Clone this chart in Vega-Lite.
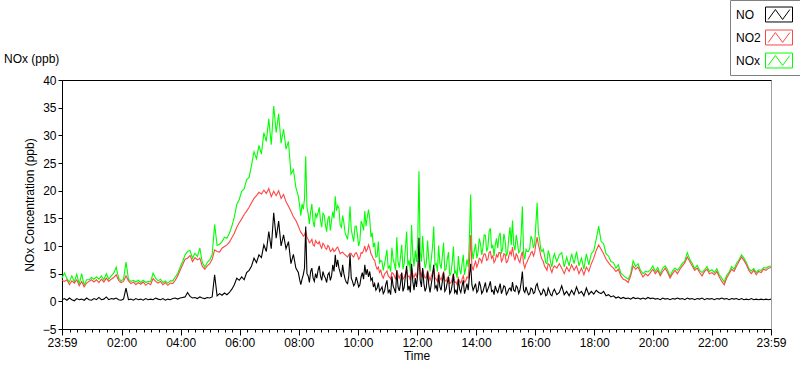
{
  "$schema": "https://vega.github.io/schema/vega-lite/v6.json",
  "autosize": "none",
  "width": 709,
  "height": 249,
  "padding": {"left": 62, "top": 80, "right": 29, "bottom": 40},
  "background": "white",
  "title": {"text": "NOx (ppb)", "anchor": "start", "frame": "group", "dx": -58, "dy": 80, "offset": 14, "fontSize": 12, "fontWeight": "normal", "font": "Liberation Sans", "color": "#000"},
  "data": {"values": [
    {"m":0,"NO":0.3,"NO2":3.8,"NOx":4.2},{"m":5,"NO":0.5,"NO2":3.6,"NOx":5.1},{"m":10,"NO":0.2,"NO2":3.9,"NOx":4.1},{"m":15,"NO":0.6,"NO2":3.0,"NOx":3.5},
    {"m":20,"NO":0.3,"NO2":3.7,"NOx":4.6},{"m":25,"NO":0.1,"NO2":3.3,"NOx":3.5},{"m":30,"NO":0.5,"NO2":3.9,"NOx":4.9},{"m":35,"NO":0.3,"NO2":2.8,"NOx":3.1},
    {"m":40,"NO":0.4,"NO2":3.6,"NOx":5.0},{"m":45,"NO":0.2,"NO2":2.6,"NOx":2.9},{"m":50,"NO":0.6,"NO2":3.3,"NOx":3.9},{"m":55,"NO":0.3,"NO2":3.6,"NOx":3.9},
    {"m":60,"NO":0.2,"NO2":3.9,"NOx":4.3},{"m":65,"NO":0.5,"NO2":3.5,"NOx":4.0},{"m":70,"NO":0.3,"NO2":3.9,"NOx":4.4},{"m":75,"NO":0.7,"NO2":3.4,"NOx":4.0},
    {"m":80,"NO":0.3,"NO2":4.0,"NOx":4.6},{"m":85,"NO":0.4,"NO2":3.5,"NOx":3.9},{"m":90,"NO":0.8,"NO2":4.2,"NOx":5.0},{"m":95,"NO":0.3,"NO2":3.6,"NOx":4.0},
    {"m":100,"NO":0.5,"NO2":4.0,"NOx":4.6},{"m":105,"NO":0.4,"NO2":4.3,"NOx":5.1},{"m":110,"NO":0.6,"NO2":4.8,"NOx":6.2},{"m":115,"NO":0.3,"NO2":3.8,"NOx":4.2},
    {"m":120,"NO":0.2,"NO2":3.4,"NOx":3.7},{"m":125,"NO":0.4,"NO2":3.6,"NOx":4.0},{"m":130,"NO":2.4,"NO2":4.6,"NOx":7.1},{"m":135,"NO":0.3,"NO2":3.7,"NOx":4.0},
    {"m":140,"NO":0.4,"NO2":3.2,"NOx":3.6},{"m":145,"NO":0.2,"NO2":3.5,"NOx":3.8},{"m":150,"NO":0.5,"NO2":3.0,"NOx":3.5},{"m":155,"NO":0.3,"NO2":3.4,"NOx":3.8},
    {"m":160,"NO":0.4,"NO2":3.1,"NOx":3.4},{"m":165,"NO":0.2,"NO2":3.5,"NOx":3.8},{"m":170,"NO":0.5,"NO2":2.9,"NOx":3.4},{"m":175,"NO":0.3,"NO2":3.3,"NOx":3.6},
    {"m":180,"NO":0.4,"NO2":3.0,"NOx":3.5},{"m":185,"NO":0.3,"NO2":4.1,"NOx":5.1},{"m":190,"NO":0.6,"NO2":3.6,"NOx":4.2},{"m":195,"NO":0.4,"NO2":3.3,"NOx":3.7},
    {"m":200,"NO":0.3,"NO2":3.6,"NOx":4.0},{"m":205,"NO":0.5,"NO2":3.0,"NOx":3.4},{"m":210,"NO":0.2,"NO2":3.4,"NOx":3.7},{"m":215,"NO":0.4,"NO2":2.9,"NOx":3.3},
    {"m":220,"NO":0.3,"NO2":3.3,"NOx":3.7},{"m":225,"NO":0.5,"NO2":3.2,"NOx":3.7},{"m":230,"NO":0.6,"NO2":3.8,"NOx":4.4},{"m":235,"NO":0.4,"NO2":4.6,"NOx":5.0},
    {"m":240,"NO":0.6,"NO2":5.6,"NOx":6.2},{"m":245,"NO":0.7,"NO2":6.6,"NOx":7.2},{"m":250,"NO":0.8,"NO2":7.6,"NOx":8.4},{"m":255,"NO":1.6,"NO2":7.8,"NOx":9.0},
    {"m":260,"NO":0.9,"NO2":8.3,"NOx":9.2},{"m":265,"NO":0.6,"NO2":7.2,"NOx":7.8},{"m":270,"NO":0.7,"NO2":7.9,"NOx":8.7},{"m":275,"NO":0.5,"NO2":7.5,"NOx":8.1},
    {"m":280,"NO":0.8,"NO2":7.8,"NOx":9.6},{"m":285,"NO":0.6,"NO2":6.3,"NOx":7.0},{"m":290,"NO":0.5,"NO2":5.8,"NOx":6.2},{"m":295,"NO":0.7,"NO2":6.4,"NOx":7.0},
    {"m":300,"NO":0.6,"NO2":6.8,"NOx":7.5},{"m":305,"NO":0.8,"NO2":7.6,"NOx":8.4},{"m":310,"NO":4.8,"NO2":9.3,"NOx":13.9},{"m":315,"NO":1.0,"NO2":9.0,"NOx":10.1},
    {"m":320,"NO":1.4,"NO2":8.9,"NOx":10.3},{"m":325,"NO":1.1,"NO2":9.6,"NOx":10.8},{"m":330,"NO":1.5,"NO2":9.9,"NOx":11.6},{"m":335,"NO":1.2,"NO2":10.2,"NOx":11.4},
    {"m":340,"NO":1.6,"NO2":10.7,"NOx":12.3},{"m":345,"NO":2.2,"NO2":11.5,"NOx":13.6},{"m":350,"NO":3.0,"NO2":12.3,"NOx":15.2},{"m":355,"NO":4.2,"NO2":13.4,"NOx":17.5},
    {"m":360,"NO":3.8,"NO2":14.2,"NOx":18.4},{"m":365,"NO":4.4,"NO2":14.9,"NOx":19.9},{"m":370,"NO":3.9,"NO2":15.7,"NOx":20.3},{"m":375,"NO":5.2,"NO2":16.3,"NOx":22.0},
    {"m":380,"NO":5.6,"NO2":17.0,"NOx":22.4},{"m":385,"NO":6.4,"NO2":17.8,"NOx":24.6},{"m":390,"NO":7.8,"NO2":18.6,"NOx":27.0},{"m":395,"NO":7.0,"NO2":19.1,"NOx":25.8},
    {"m":400,"NO":8.4,"NO2":19.7,"NOx":28.2},{"m":405,"NO":7.9,"NO2":19.4,"NOx":26.6},{"m":410,"NO":10.2,"NO2":20.1,"NOx":30.5},{"m":415,"NO":9.0,"NO2":19.5,"NOx":28.9},
    {"m":420,"NO":12.6,"NO2":20.4,"NOx":33.0},{"m":425,"NO":9.5,"NO2":18.9,"NOx":28.3},{"m":430,"NO":16.0,"NO2":19.9,"NOx":35.3},{"m":435,"NO":11.4,"NO2":19.1,"NOx":30.5},
    {"m":440,"NO":14.5,"NO2":20.0,"NOx":33.9},{"m":445,"NO":10.0,"NO2":18.6,"NOx":28.6},{"m":450,"NO":12.0,"NO2":19.3,"NOx":31.1},{"m":455,"NO":9.5,"NO2":18.0,"NOx":27.5},
    {"m":460,"NO":10.8,"NO2":17.2,"NOx":28.9},{"m":465,"NO":6.8,"NO2":16.3,"NOx":23.0},{"m":470,"NO":8.5,"NO2":15.3,"NOx":23.8},{"m":475,"NO":6.0,"NO2":14.6,"NOx":20.6},
    {"m":480,"NO":5.2,"NO2":13.6,"NOx":19.0},{"m":482.5,"NO":4.0,"NO2":13.0,"NOx":17.4},{"m":485,"NO":3.0,"NO2":12.5,"NOx":15.5},{"m":487.5,"NO":4.0,"NO2":12.2,"NOx":17.6},
    {"m":490,"NO":4.8,"NO2":11.8,"NOx":16.6},{"m":492.5,"NO":6.0,"NO2":12.0,"NOx":18.5},{"m":495,"NO":13.5,"NO2":12.7,"NOx":26.2},{"m":497.5,"NO":5.0,"NO2":11.6,"NOx":17.0},
    {"m":500,"NO":4.6,"NO2":11.2,"NOx":15.8},{"m":502.5,"NO":3.4,"NO2":10.6,"NOx":14.0},{"m":505,"NO":5.4,"NO2":10.8,"NOx":16.2},{"m":507.5,"NO":6.0,"NO2":11.2,"NOx":17.6},
    {"m":510,"NO":4.2,"NO2":10.2,"NOx":14.4},{"m":512.5,"NO":3.6,"NO2":10.0,"NOx":13.4},{"m":515,"NO":5.0,"NO2":11.0,"NOx":16.0},{"m":517.5,"NO":4.2,"NO2":10.6,"NOx":15.2},
    {"m":520,"NO":5.6,"NO2":10.4,"NOx":16.0},{"m":522.5,"NO":6.4,"NO2":10.8,"NOx":17.0},{"m":525,"NO":4.6,"NO2":10.0,"NOx":14.6},{"m":527.5,"NO":3.8,"NO2":9.6,"NOx":13.4},
    {"m":530,"NO":5.4,"NO2":10.5,"NOx":15.9},{"m":532.5,"NO":4.6,"NO2":10.2,"NOx":15.6},{"m":535,"NO":4.2,"NO2":9.6,"NOx":13.8},{"m":537.5,"NO":3.4,"NO2":9.4,"NOx":12.6},
    {"m":540,"NO":4.8,"NO2":10.1,"NOx":14.9},{"m":542.5,"NO":5.2,"NO2":9.8,"NOx":15.4},{"m":545,"NO":3.8,"NO2":9.0,"NOx":12.8},{"m":547.5,"NO":4.6,"NO2":9.2,"NOx":14.6},
    {"m":550,"NO":6.6,"NO2":9.6,"NOx":16.2},{"m":552.5,"NO":5.4,"NO2":9.0,"NOx":15.0},{"m":555,"NO":8.4,"NO2":9.2,"NOx":19.0},{"m":557.5,"NO":6.2,"NO2":9.6,"NOx":16.4},
    {"m":560,"NO":7.5,"NO2":9.8,"NOx":17.3},{"m":562.5,"NO":6.0,"NO2":9.2,"NOx":16.8},{"m":565,"NO":5.2,"NO2":8.6,"NOx":13.8},{"m":567.5,"NO":4.4,"NO2":8.8,"NOx":13.4},
    {"m":570,"NO":6.6,"NO2":8.9,"NOx":15.5},{"m":572.5,"NO":5.0,"NO2":8.6,"NOx":14.2},{"m":575,"NO":4.0,"NO2":8.4,"NOx":12.4},{"m":577.5,"NO":3.4,"NO2":8.2,"NOx":11.8},
    {"m":580,"NO":3.2,"NO2":8.0,"NOx":11.2},{"m":582.5,"NO":4.6,"NO2":8.4,"NOx":13.4},{"m":585,"NO":8.5,"NO2":8.7,"NOx":17.2},{"m":587.5,"NO":4.2,"NO2":8.6,"NOx":13.0},
    {"m":590,"NO":3.6,"NO2":8.2,"NOx":11.8},{"m":592.5,"NO":2.8,"NO2":8.0,"NOx":10.8},{"m":595,"NO":3.2,"NO2":8.6,"NOx":13.5},{"m":597.5,"NO":4.4,"NO2":8.8,"NOx":13.6},
    {"m":600,"NO":3.6,"NO2":8.4,"NOx":12.0},{"m":602.5,"NO":2.6,"NO2":7.6,"NOx":10.0},{"m":605,"NO":3.0,"NO2":7.9,"NOx":10.9},{"m":607.5,"NO":4.4,"NO2":8.8,"NOx":14.5},
    {"m":610,"NO":5.2,"NO2":8.7,"NOx":13.9},{"m":612.5,"NO":4.0,"NO2":9.2,"NOx":12.8},{"m":615,"NO":6.6,"NO2":10.0,"NOx":16.3},{"m":617.5,"NO":4.8,"NO2":9.0,"NOx":13.6},
    {"m":620,"NO":5.8,"NO2":9.4,"NOx":15.2},{"m":622.5,"NO":4.4,"NO2":10.2,"NOx":16.6},{"m":625,"NO":5.4,"NO2":9.6,"NOx":15.0},{"m":627.5,"NO":3.8,"NO2":8.6,"NOx":11.6},
    {"m":630,"NO":4.2,"NO2":8.2,"NOx":12.4},{"m":632.5,"NO":2.6,"NO2":7.6,"NOx":9.8},{"m":635,"NO":3.2,"NO2":7.4,"NOx":10.6},{"m":637.5,"NO":2.0,"NO2":6.4,"NOx":8.0},
    {"m":640,"NO":2.4,"NO2":5.8,"NOx":8.2},{"m":642.5,"NO":3.4,"NO2":6.2,"NOx":10.8},{"m":645,"NO":1.8,"NO2":5.2,"NOx":7.0},{"m":647.5,"NO":2.2,"NO2":5.6,"NOx":7.4},
    {"m":650,"NO":2.6,"NO2":4.6,"NOx":7.2},{"m":652.5,"NO":1.4,"NO2":4.2,"NOx":5.6},{"m":655,"NO":1.8,"NO2":4.9,"NOx":6.7},{"m":657.5,"NO":3.0,"NO2":5.2,"NOx":8.0},
    {"m":660,"NO":3.8,"NO2":5.5,"NOx":9.3},{"m":662.5,"NO":1.6,"NO2":4.6,"NOx":6.0},{"m":665,"NO":2.0,"NO2":4.4,"NOx":6.4},{"m":667.5,"NO":1.2,"NO2":4.0,"NOx":5.4},
    {"m":670,"NO":4.5,"NO2":5.2,"NOx":9.7},{"m":672.5,"NO":2.8,"NO2":5.0,"NOx":7.6},{"m":675,"NO":2.2,"NO2":4.6,"NOx":6.8},{"m":677.5,"NO":1.5,"NO2":4.0,"NOx":5.6},
    {"m":680,"NO":5.6,"NO2":5.6,"NOx":11.6},{"m":682.5,"NO":2.6,"NO2":4.8,"NOx":7.2},{"m":685,"NO":1.9,"NO2":4.2,"NOx":6.1},{"m":687.5,"NO":3.2,"NO2":4.8,"NOx":8.0},
    {"m":690,"NO":5.2,"NO2":5.0,"NOx":10.2},{"m":692.5,"NO":1.8,"NO2":4.0,"NOx":5.8},{"m":695,"NO":2.5,"NO2":4.3,"NOx":6.8},{"m":697.5,"NO":4.6,"NO2":5.0,"NOx":9.6},
    {"m":700,"NO":6.4,"NO2":5.8,"NOx":12.6},{"m":702.5,"NO":2.0,"NO2":4.4,"NOx":6.4},{"m":705,"NO":2.8,"NO2":4.6,"NOx":7.4},{"m":707.5,"NO":1.6,"NO2":3.8,"NOx":5.4},
    {"m":710,"NO":6.8,"NO2":6.0,"NOx":13.8},{"m":712.5,"NO":3.6,"NO2":4.8,"NOx":8.4},{"m":715,"NO":2.0,"NO2":4.3,"NOx":6.3},{"m":717.5,"NO":4.2,"NO2":5.0,"NOx":9.2},
    {"m":720,"NO":2.6,"NO2":4.5,"NOx":7.1},{"m":722.5,"NO":5.0,"NO2":5.6,"NOx":10.6},{"m":725,"NO":11.5,"NO2":7.4,"NOx":23.5},{"m":727.5,"NO":3.8,"NO2":5.2,"NOx":9.0},
    {"m":730,"NO":2.6,"NO2":4.6,"NOx":7.2},{"m":732.5,"NO":6.0,"NO2":5.8,"NOx":11.8},{"m":735,"NO":3.2,"NO2":4.8,"NOx":8.0},{"m":737.5,"NO":1.8,"NO2":4.2,"NOx":6.0},
    {"m":740,"NO":2.5,"NO2":4.4,"NOx":6.9},{"m":742.5,"NO":5.4,"NO2":5.6,"NOx":11.0},{"m":745,"NO":3.0,"NO2":4.6,"NOx":7.6},{"m":747.5,"NO":1.6,"NO2":3.8,"NOx":5.4},
    {"m":750,"NO":3.1,"NO2":4.5,"NOx":7.6},{"m":752.5,"NO":4.6,"NO2":5.2,"NOx":9.8},{"m":755,"NO":6.6,"NO2":5.9,"NOx":13.5},{"m":757.5,"NO":2.4,"NO2":4.2,"NOx":6.6},
    {"m":760,"NO":2.8,"NO2":4.0,"NOx":6.8},{"m":762.5,"NO":1.8,"NO2":3.6,"NOx":5.4},{"m":765,"NO":4.8,"NO2":5.3,"NOx":10.1},{"m":767.5,"NO":2.6,"NO2":4.2,"NOx":6.8},
    {"m":770,"NO":2.0,"NO2":3.9,"NOx":5.9},{"m":772.5,"NO":3.6,"NO2":4.6,"NOx":8.2},{"m":775,"NO":5.2,"NO2":5.4,"NOx":10.6},{"m":777.5,"NO":1.8,"NO2":3.8,"NOx":5.6},
    {"m":780,"NO":2.2,"NO2":3.6,"NOx":5.8},{"m":782.5,"NO":3.4,"NO2":4.2,"NOx":7.6},{"m":785,"NO":4.4,"NO2":4.5,"NOx":8.9},{"m":787.5,"NO":1.4,"NO2":3.2,"NOx":4.6},
    {"m":790,"NO":1.8,"NO2":3.4,"NOx":5.2},{"m":792.5,"NO":3.0,"NO2":4.0,"NOx":7.0},{"m":795,"NO":5.0,"NO2":4.9,"NOx":9.9},{"m":797.5,"NO":1.6,"NO2":3.4,"NOx":5.0},
    {"m":800,"NO":2.0,"NO2":3.5,"NOx":5.5},{"m":802.5,"NO":1.2,"NO2":3.0,"NOx":4.2},{"m":805,"NO":4.0,"NO2":4.2,"NOx":8.2},{"m":807.5,"NO":2.2,"NO2":3.6,"NOx":5.8},
    {"m":810,"NO":1.6,"NO2":3.3,"NOx":4.9},{"m":812.5,"NO":2.8,"NO2":4.0,"NOx":6.8},{"m":815,"NO":3.8,"NO2":4.6,"NOx":8.4},{"m":817.5,"NO":1.4,"NO2":3.4,"NOx":4.8},
    {"m":820,"NO":2.2,"NO2":3.7,"NOx":5.9},{"m":822.5,"NO":3.2,"NO2":4.4,"NOx":7.6},{"m":825,"NO":2.0,"NO2":4.2,"NOx":6.2},{"m":827.5,"NO":4.6,"NO2":7.0,"NOx":11.6},
    {"m":830,"NO":6.8,"NO2":12.0,"NOx":19.3},{"m":832.5,"NO":3.0,"NO2":6.4,"NOx":9.4},{"m":835,"NO":2.0,"NO2":5.6,"NOx":7.6},{"m":837.5,"NO":2.6,"NO2":6.6,"NOx":9.2},
    {"m":840,"NO":3.2,"NO2":7.2,"NOx":10.4},{"m":842.5,"NO":1.6,"NO2":6.2,"NOx":7.8},{"m":845,"NO":2.0,"NO2":6.8,"NOx":8.8},{"m":847.5,"NO":3.6,"NO2":7.8,"NOx":11.4},
    {"m":850,"NO":2.8,"NO2":7.6,"NOx":10.4},{"m":852.5,"NO":1.4,"NO2":7.0,"NOx":8.4},{"m":855,"NO":1.8,"NO2":8.0,"NOx":9.8},{"m":857.5,"NO":2.6,"NO2":8.6,"NOx":12.0},
    {"m":860,"NO":3.4,"NO2":8.5,"NOx":11.9},{"m":862.5,"NO":1.6,"NO2":7.4,"NOx":9.0},{"m":865,"NO":2.2,"NO2":7.6,"NOx":9.8},{"m":867.5,"NO":2.8,"NO2":8.8,"NOx":12.6},
    {"m":870,"NO":3.6,"NO2":9.0,"NOx":13.2},{"m":872.5,"NO":1.8,"NO2":7.8,"NOx":9.6},{"m":875,"NO":2.0,"NO2":8.2,"NOx":10.2},{"m":877.5,"NO":1.2,"NO2":7.0,"NOx":8.2},
    {"m":880,"NO":2.8,"NO2":7.4,"NOx":10.2},{"m":882.5,"NO":2.0,"NO2":8.4,"NOx":11.4},{"m":885,"NO":1.6,"NO2":8.0,"NOx":9.6},{"m":887.5,"NO":2.4,"NO2":8.8,"NOx":11.8},
    {"m":890,"NO":3.2,"NO2":8.8,"NOx":12.4},{"m":892.5,"NO":1.4,"NO2":7.2,"NOx":8.6},{"m":895,"NO":2.0,"NO2":7.6,"NOx":9.6},{"m":897.5,"NO":2.8,"NO2":8.6,"NOx":12.2},
    {"m":900,"NO":2.6,"NO2":8.4,"NOx":11.0},{"m":902.5,"NO":1.2,"NO2":7.0,"NOx":8.2},{"m":905,"NO":1.6,"NO2":7.2,"NOx":8.8},{"m":907.5,"NO":2.2,"NO2":8.2,"NOx":11.6},
    {"m":910,"NO":2.4,"NO2":9.0,"NOx":13.4},{"m":912.5,"NO":1.8,"NO2":8.4,"NOx":10.2},{"m":915,"NO":3.5,"NO2":9.8,"NOx":14.6},{"m":917.5,"NO":2.0,"NO2":8.2,"NOx":10.2},
    {"m":920,"NO":1.8,"NO2":7.4,"NOx":9.2},{"m":922.5,"NO":2.8,"NO2":8.6,"NOx":12.0},{"m":925,"NO":2.5,"NO2":8.2,"NOx":10.7},{"m":927.5,"NO":1.4,"NO2":7.4,"NOx":8.8},
    {"m":930,"NO":2.0,"NO2":7.0,"NOx":9.0},{"m":932.5,"NO":3.4,"NO2":8.2,"NOx":12.0},{"m":935,"NO":5.4,"NO2":9.0,"NOx":17.2},{"m":937.5,"NO":2.0,"NO2":6.8,"NOx":8.8},
    {"m":940,"NO":1.6,"NO2":6.0,"NOx":7.6},{"m":942.5,"NO":2.6,"NO2":6.8,"NOx":9.4},{"m":945,"NO":1.8,"NO2":7.2,"NOx":9.0},{"m":947.5,"NO":1.2,"NO2":7.8,"NOx":9.0},
    {"m":950,"NO":1.4,"NO2":8.2,"NOx":9.6},{"m":952.5,"NO":2.4,"NO2":8.8,"NOx":11.8},{"m":955,"NO":2.2,"NO2":9.0,"NOx":11.2},{"m":957.5,"NO":1.4,"NO2":8.2,"NOx":9.6},
    {"m":960,"NO":1.6,"NO2":8.8,"NOx":10.4},{"m":962.5,"NO":2.8,"NO2":10.4,"NOx":14.0},{"m":965,"NO":3.2,"NO2":11.6,"NOx":17.8},{"m":967.5,"NO":2.2,"NO2":10.2,"NOx":12.4},
    {"m":970,"NO":1.8,"NO2":9.4,"NOx":11.2},{"m":972.5,"NO":1.2,"NO2":8.2,"NOx":9.4},{"m":975,"NO":1.4,"NO2":7.6,"NOx":9.0},{"m":977.5,"NO":2.2,"NO2":7.2,"NOx":9.4},
    {"m":980,"NO":1.9,"NO2":6.4,"NOx":8.3},{"m":982.5,"NO":1.0,"NO2":6.0,"NOx":7.0},{"m":985,"NO":1.2,"NO2":5.6,"NOx":6.8},{"m":987.5,"NO":2.4,"NO2":6.8,"NOx":9.2},
    {"m":990,"NO":1.8,"NO2":6.6,"NOx":8.4},{"m":992.5,"NO":1.2,"NO2":5.8,"NOx":7.0},{"m":995,"NO":1.0,"NO2":5.2,"NOx":6.2},{"m":997.5,"NO":1.8,"NO2":6.0,"NOx":7.8},
    {"m":1000,"NO":2.2,"NO2":6.4,"NOx":8.6},{"m":1005,"NO":1.2,"NO2":6.0,"NOx":7.2},{"m":1010,"NO":1.6,"NO2":6.8,"NOx":8.4},{"m":1015,"NO":2.8,"NO2":6.0,"NOx":8.8},
    {"m":1020,"NO":1.2,"NO2":5.0,"NOx":6.2},{"m":1025,"NO":1.8,"NO2":6.2,"NOx":8.0},{"m":1030,"NO":1.0,"NO2":5.4,"NOx":6.4},{"m":1035,"NO":2.0,"NO2":6.6,"NOx":8.6},
    {"m":1040,"NO":1.2,"NO2":5.6,"NOx":6.8},{"m":1045,"NO":2.6,"NO2":6.4,"NOx":9.0},{"m":1050,"NO":1.4,"NO2":5.0,"NOx":6.4},{"m":1055,"NO":1.8,"NO2":6.0,"NOx":7.8},
    {"m":1060,"NO":1.0,"NO2":4.8,"NOx":5.8},{"m":1065,"NO":2.4,"NO2":6.2,"NOx":8.6},{"m":1070,"NO":1.2,"NO2":5.4,"NOx":6.6},{"m":1075,"NO":1.8,"NO2":6.8,"NOx":8.6},
    {"m":1080,"NO":1.3,"NO2":7.8,"NOx":9.1},{"m":1085,"NO":2.0,"NO2":9.2,"NOx":11.2},{"m":1090,"NO":1.6,"NO2":10.2,"NOx":13.6},{"m":1095,"NO":1.4,"NO2":9.4,"NOx":10.8},
    {"m":1100,"NO":1.8,"NO2":8.6,"NOx":10.4},{"m":1105,"NO":1.0,"NO2":7.6,"NOx":8.6},{"m":1110,"NO":1.2,"NO2":7.0,"NOx":8.2},{"m":1115,"NO":0.8,"NO2":6.4,"NOx":7.2},
    {"m":1120,"NO":1.0,"NO2":6.0,"NOx":7.0},{"m":1125,"NO":0.6,"NO2":5.4,"NOx":6.0},{"m":1130,"NO":0.8,"NO2":5.8,"NOx":6.6},{"m":1135,"NO":0.5,"NO2":4.6,"NOx":5.1},
    {"m":1140,"NO":0.7,"NO2":4.0,"NOx":4.7},{"m":1145,"NO":0.5,"NO2":3.8,"NOx":4.3},{"m":1150,"NO":0.6,"NO2":3.4,"NOx":4.0},{"m":1155,"NO":0.4,"NO2":4.6,"NOx":5.0},
    {"m":1160,"NO":0.7,"NO2":6.4,"NOx":7.3},{"m":1165,"NO":0.5,"NO2":5.8,"NOx":6.3},{"m":1170,"NO":0.6,"NO2":6.2,"NOx":6.8},{"m":1175,"NO":0.4,"NO2":5.2,"NOx":5.6},
    {"m":1180,"NO":0.6,"NO2":4.4,"NOx":5.0},{"m":1185,"NO":0.4,"NO2":5.0,"NOx":5.4},{"m":1190,"NO":0.7,"NO2":4.6,"NOx":5.3},{"m":1195,"NO":0.5,"NO2":5.2,"NOx":5.7},
    {"m":1200,"NO":0.6,"NO2":5.8,"NOx":6.4},{"m":1205,"NO":0.4,"NO2":5.0,"NOx":5.4},{"m":1210,"NO":0.5,"NO2":5.6,"NOx":6.1},{"m":1215,"NO":0.3,"NO2":4.6,"NOx":4.9},
    {"m":1220,"NO":0.6,"NO2":5.4,"NOx":6.0},{"m":1225,"NO":0.4,"NO2":6.0,"NOx":6.4},{"m":1230,"NO":0.5,"NO2":5.2,"NOx":5.7},{"m":1235,"NO":0.3,"NO2":4.2,"NOx":4.5},
    {"m":1240,"NO":0.5,"NO2":5.0,"NOx":5.5},{"m":1245,"NO":0.4,"NO2":5.6,"NOx":6.0},{"m":1250,"NO":0.6,"NO2":5.0,"NOx":5.6},{"m":1255,"NO":0.4,"NO2":5.8,"NOx":6.2},
    {"m":1260,"NO":0.5,"NO2":6.4,"NOx":6.9},{"m":1265,"NO":0.3,"NO2":7.0,"NOx":7.3},{"m":1270,"NO":0.6,"NO2":8.0,"NOx":8.8},{"m":1275,"NO":0.4,"NO2":7.2,"NOx":7.6},
    {"m":1280,"NO":0.5,"NO2":6.4,"NOx":6.9},{"m":1285,"NO":0.3,"NO2":5.6,"NOx":5.9},{"m":1290,"NO":0.5,"NO2":6.0,"NOx":6.5},{"m":1295,"NO":0.4,"NO2":5.2,"NOx":5.6},
    {"m":1300,"NO":0.6,"NO2":4.6,"NOx":5.2},{"m":1305,"NO":0.3,"NO2":5.4,"NOx":5.7},{"m":1310,"NO":0.5,"NO2":5.8,"NOx":6.3},{"m":1315,"NO":0.4,"NO2":5.0,"NOx":5.4},
    {"m":1320,"NO":0.5,"NO2":5.2,"NOx":5.7},{"m":1325,"NO":0.3,"NO2":4.8,"NOx":5.2},{"m":1330,"NO":0.5,"NO2":5.4,"NOx":5.9},{"m":1335,"NO":0.4,"NO2":4.4,"NOx":4.8},
    {"m":1340,"NO":0.6,"NO2":3.6,"NOx":4.2},{"m":1345,"NO":0.4,"NO2":3.0,"NOx":3.5},{"m":1350,"NO":0.5,"NO2":4.2,"NOx":4.7},{"m":1355,"NO":0.3,"NO2":5.0,"NOx":5.3},
    {"m":1360,"NO":0.5,"NO2":5.8,"NOx":6.3},{"m":1365,"NO":0.4,"NO2":5.4,"NOx":5.8},{"m":1370,"NO":0.5,"NO2":6.4,"NOx":6.9},{"m":1375,"NO":0.3,"NO2":7.2,"NOx":7.5},
    {"m":1380,"NO":0.5,"NO2":8.0,"NOx":8.4},{"m":1385,"NO":0.3,"NO2":7.4,"NOx":7.8},{"m":1390,"NO":0.4,"NO2":6.6,"NOx":7.0},{"m":1395,"NO":0.3,"NO2":5.6,"NOx":5.9},
    {"m":1400,"NO":0.5,"NO2":5.0,"NOx":5.5},{"m":1405,"NO":0.3,"NO2":5.6,"NOx":5.9},{"m":1410,"NO":0.4,"NO2":4.8,"NOx":5.2},{"m":1415,"NO":0.3,"NO2":5.4,"NOx":5.7},
    {"m":1420,"NO":0.4,"NO2":5.2,"NOx":5.6},{"m":1425,"NO":0.3,"NO2":5.8,"NOx":6.1},{"m":1430,"NO":0.4,"NO2":5.6,"NOx":6.0},{"m":1435,"NO":0.3,"NO2":6.0,"NOx":6.3},
    {"m":1440,"NO":0.4,"NO2":6.1,"NOx":6.4}
  ]},
  "resolve": {"axis": {"x": "independent"}},
  "layer": [
    {
      "mark": {"type": "line", "strokeWidth": 1.1, "interpolate": "linear"},
      "encoding": {
        "x": {"field": "m", "type": "quantitative", "scale": {"domain": [0, 1440], "nice": false, "zero": false},
          "axis": {"orient": "bottom", "title": "Time", "values": [0,121,241,361,481,601,721,841,961,1081,1201,1321,1440],
            "labelExpr": "datum.value == 0 || datum.value == 1440 ? '23:59' : timeFormat(datetime(2020,0,1,23,59+datum.value), '%H:%M')",
            "tickSize": 6, "labelPadding": 2, "titlePadding": 2, "labelFlush": false, "labelOverlap": false, "grid": false}},
        "y": {"field": "NOx", "type": "quantitative", "title": "NOx Concentration (ppb)", "scale": {"domain": [-5, 40], "nice": false, "zero": false}},
        "color": {"datum": "NOx", "type": "nominal", "scale": {"domain": ["NO", "NO2", "NOx"], "range": ["#000000", "#ff4545", "#00ff00"]}, "legend": {"title": null}}
      }
    },
    {
      "mark": {"type": "line", "strokeWidth": 1.1, "interpolate": "linear"},
      "encoding": {
        "x": {"field": "m", "type": "quantitative", "scale": {"domain": [0, 1440], "nice": false, "zero": false},
          "axis": {"orient": "bottom", "title": null, "labels": false, "domain": false, "grid": false, "tickSize": 3,
            "values": [1,16,31,46,61,76,91,106,136,151,166,181,196,211,226,256,271,286,301,316,331,346,376,391,406,421,436,451,466,496,511,526,541,556,571,586,616,631,646,661,676,691,706,736,751,766,781,796,811,826,856,871,886,901,916,931,946,976,991,1006,1021,1036,1051,1066,1096,1111,1126,1141,1156,1171,1186,1216,1231,1246,1261,1276,1291,1306,1336,1351,1366,1381,1396,1411,1426]}},
        "y": {"field": "NO2", "type": "quantitative", "title": "NOx Concentration (ppb)", "scale": {"domain": [-5, 40], "nice": false, "zero": false}},
        "color": {"datum": "NO2", "type": "nominal"}
      }
    },
    {
      "mark": {"type": "line", "strokeWidth": 1.1, "interpolate": "linear"},
      "encoding": {
        "x": {"field": "m", "type": "quantitative", "scale": {"domain": [0, 1440], "nice": false, "zero": false},
          "axis": {"orient": "top", "title": null, "labels": false, "ticks": false, "domain": true, "grid": false}},
        "y": {"field": "NO", "type": "quantitative", "title": "NOx Concentration (ppb)", "scale": {"domain": [-5, 40], "nice": false, "zero": false}},
        "color": {"datum": "NO", "type": "nominal"}
      }
    }
  ],
  "config": {
    "font": "Liberation Sans",
    "view": {"stroke": "#a0a0a0", "strokeWidth": 1},
    "axis": {"labelFont": "Liberation Sans", "titleFont": "Liberation Sans", "labelFontSize": 12, "titleFontSize": 12, "titleFontWeight": "normal",
      "labelColor": "#000", "titleColor": "#000", "domainColor": "#000", "tickColor": "#000", "grid": false},
    "axisY": {"values": [-5,0,5,10,15,20,25,30,35,40], "tickSize": 4, "labelPadding": 2, "titlePadding": 6, "labelFlush": false},
    "legend": {"orient": "none", "legendX": 668, "legendY": -80, "padding": 5, "strokeColor": "#808080", "fillColor": "white",
      "labelFont": "Liberation Sans", "labelFontSize": 12, "labelColor": "#000", "labelAlign": "left", "labelOffset": -52.5,
      "symbolType": "M-1.5,-0.83H1.5V0.83H-1.5Z M-1.2,0.55L-0.4,-0.55L0.4,0.55L1.2,-0.55", "symbolSize": 324, "symbolOffset": 34.5,
      "symbolStrokeWidth": 1, "rowPadding": 4}
  }
}
